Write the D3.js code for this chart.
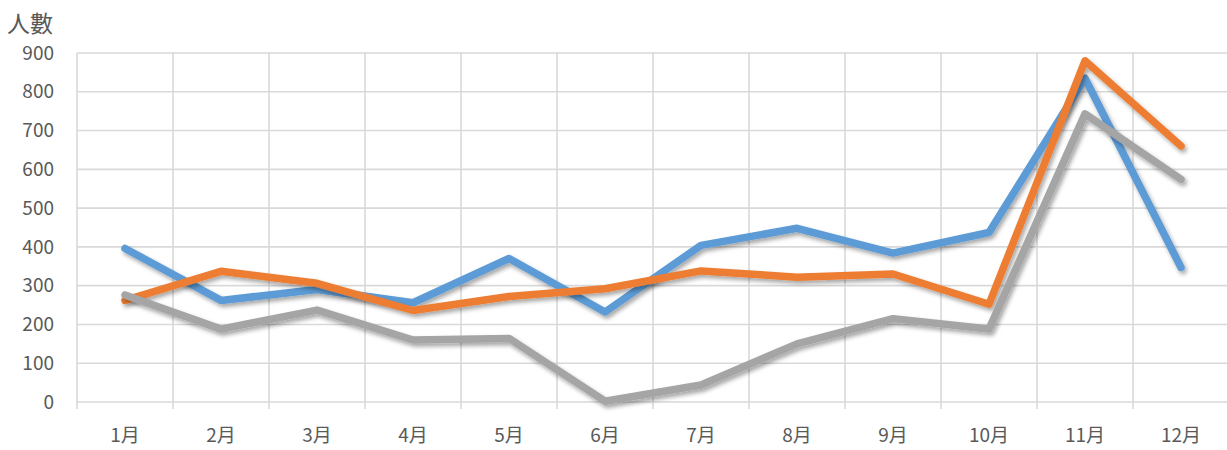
<!DOCTYPE html>
<html><head><meta charset="utf-8">
<script src="https://cdn.jsdelivr.net/npm/d3@7"></script>
<style>body{margin:0;background:#fff}svg{display:block}</style>
</head><body>
<svg id="c" width="1227" height="450"></svg>
<script>
const months = ["1月","2月","3月","4月","5月","6月","7月","8月","9月","10月","11月","12月"];
const seriesBlue   = [396, 262, 290, 256, 370, 232, 404, 448, 384, 437, 835, 347];
const seriesOrange = [262, 337, 306, 236, 272, 292, 338, 322, 330, 252, 880, 660];
const seriesGray   = [276, 188, 237, 160, 164, 2, 44, 150, 215, 188, 743, 574];
const yTicks = [0,100,200,300,400,500,600,700,800,900];
const yTitle = "人數";

const svg = d3.select("#c");
const L = 77, R = 1229, T = 53, B = 402;
const x = d3.scaleBand().domain(months).range([L, R]).padding(0);
const y = d3.scaleLinear().domain([0, 900]).range([B, T]);
const font = "'Noto Sans CJK JP', 'Noto Sans', sans-serif";
const txt = "#595959", grid = "#d9d9d9";

const defs = svg.append("defs");
const f = defs.append("filter").attr("id","sh").attr("x","-10%").attr("y","-10%").attr("width","120%").attr("height","130%");
f.append("feDropShadow").attr("dx",2).attr("dy",3).attr("stdDeviation",2).attr("flood-color","#000").attr("flood-opacity",0.35);

// horizontal grid
svg.append("g").selectAll("line").data(yTicks).join("line")
  .attr("x1", L).attr("x2", R).attr("y1", d=>y(d)).attr("y2", d=>y(d))
  .attr("stroke", grid).attr("stroke-width", 1.6);
// vertical grid at band boundaries
const bounds = months.map(m => x(m)).concat([R]);
svg.append("g").selectAll("line").data(bounds).join("line")
  .attr("x1", d=>d).attr("x2", d=>d).attr("y1", T).attr("y2", B+7)
  .attr("stroke", grid).attr("stroke-width", 1.6);

// y labels
svg.append("g").selectAll("text").data(yTicks).join("text")
  .attr("x", 54).attr("y", d=>y(d)).attr("dy","0.35em").attr("text-anchor","end")
  .attr("font-family", font).attr("font-size", 19).attr("fill", txt).text(d=>d);
// x labels
svg.append("g").selectAll("text").data(months).join("text")
  .attr("x", d=>x(d)+x.bandwidth()/2).attr("y", 442).attr("text-anchor","middle")
  .attr("font-family", font).attr("font-size", 19).attr("fill", txt).text(d=>d);
// title
svg.append("text").attr("x", 7).attr("y", 32).attr("font-family", font).attr("font-size", 23)
  .attr("fill", txt).text(yTitle);

const line = d3.line().x((d,i)=>x(months[i])+x.bandwidth()/2).y(d=>y(d));
const series = [[seriesBlue,"#5B9BD5"],[seriesOrange,"#ED7D31"],[seriesGray,"#A5A5A5"]];
svg.append("g").selectAll("path").data(series).join("path")
  .attr("d", d=>line(d[0])).attr("fill","none").attr("stroke", d=>d[1])
  .attr("stroke-width", 7.5).attr("stroke-linejoin","round").attr("stroke-linecap","round")
  .attr("filter","url(#sh)");
</script>
</body></html>
